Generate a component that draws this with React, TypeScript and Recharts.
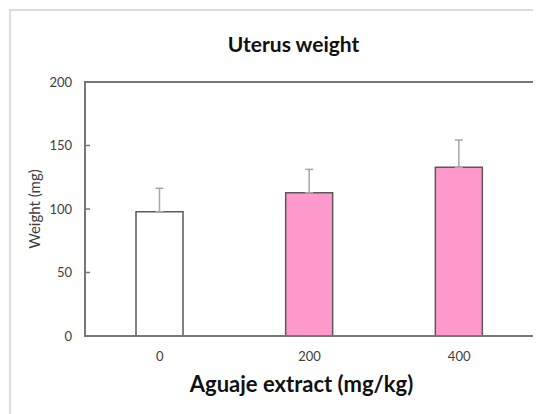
import { BarChart, Bar, XAxis, YAxis, ErrorBar, Cell, ReferenceArea } from 'recharts'

const doses = ['0', '200', '400']
const weights = [97.8, 112.8, 132.8]
const sdUpper = [18.5, 18.4, 21.5]
const barColors = ['#ffffff', '#ff99cc', '#ff99cc']
const yTicks = [0, 50, 100, 150, 200]

const data = doses.map((dose, i) => ({
  dose,
  weight: weights[i],
  err: [0, sdUpper[i]],
}))

const font = 'Lato, "Open Sans", sans-serif'

export default function App() {
  return (
    <div style={{ position: 'relative', width: 533, height: 406, fontFamily: font }}>
      <div
        style={{
          position: 'absolute', left: 1, top: 1, width: 560, height: 420,
          borderTop: '2px solid #dcdcdc', borderLeft: '2px solid #dcdcdc',
        }}
      />
      <div
        style={{
          position: 'absolute', left: 0, width: 571, top: 23, textAlign: 'center',
          fontSize: 21, fontWeight: 700, color: '#111',
        }}
      >
        Uterus weight
      </div>
      <div style={{ position: 'absolute', left: 0, top: 0 }}>
        <BarChart
          width={533}
          height={406}
          data={data}
          margin={{ top: 74, right: 7, bottom: 48, left: 37 }}
          barSize={47}
        >
          <ReferenceArea
            x1={doses[0]}
            x2={doses[doses.length - 1]}
            y1={0}
            y2={200}
            fill="#ffffff"
            fillOpacity={0}
            stroke="#777777"
            strokeWidth={2}
            strokeOpacity={1}
          />
          <XAxis
            dataKey="dose"
            stroke="#777777"
            strokeWidth={2}
            tickLine={false}
            tickSize={0}
            tickMargin={16}
            height={30}
            tick={{ fill: '#404040', fontSize: 13, fontFamily: font }}
            label={{
              value: 'Aguaje extract (mg/kg)',
              position: 'bottom',
              offset: 10,
              dx: -8,
              fontSize: 22,
              fontWeight: 700,
              fill: '#111',
              style: { fill: '#111', fontSize: 22, fontWeight: 700, fontFamily: font },
            }}
          />
          <YAxis
            domain={[0, 200]}
            ticks={yTicks}
            stroke="#777777"
            strokeWidth={1.5}
            width={40}
            tickSize={-5}
            tickMargin={18}
            tick={{ fill: '#404040', fontSize: 13, fontFamily: font }}
            label={{
              value: 'Weight (mg)',
              angle: -90,
              position: 'insideLeft',
              offset: -10,
              fontSize: 15,
              fill: '#404040',
              style: { textAnchor: 'middle', fill: '#404040', fontSize: 15, fontFamily: font },
            }}
          />
          <Bar dataKey="weight" stroke="#595959" strokeWidth={1.5} isAnimationActive={false}>
            {data.map((d, i) => (
              <Cell key={d.dose} fill={barColors[i]} />
            ))}
            <ErrorBar dataKey="err" stroke="#a6a6a6" strokeWidth={1.5} width={4} isAnimationActive={false} />
          </Bar>
        </BarChart>
      </div>
    </div>
  )
}
